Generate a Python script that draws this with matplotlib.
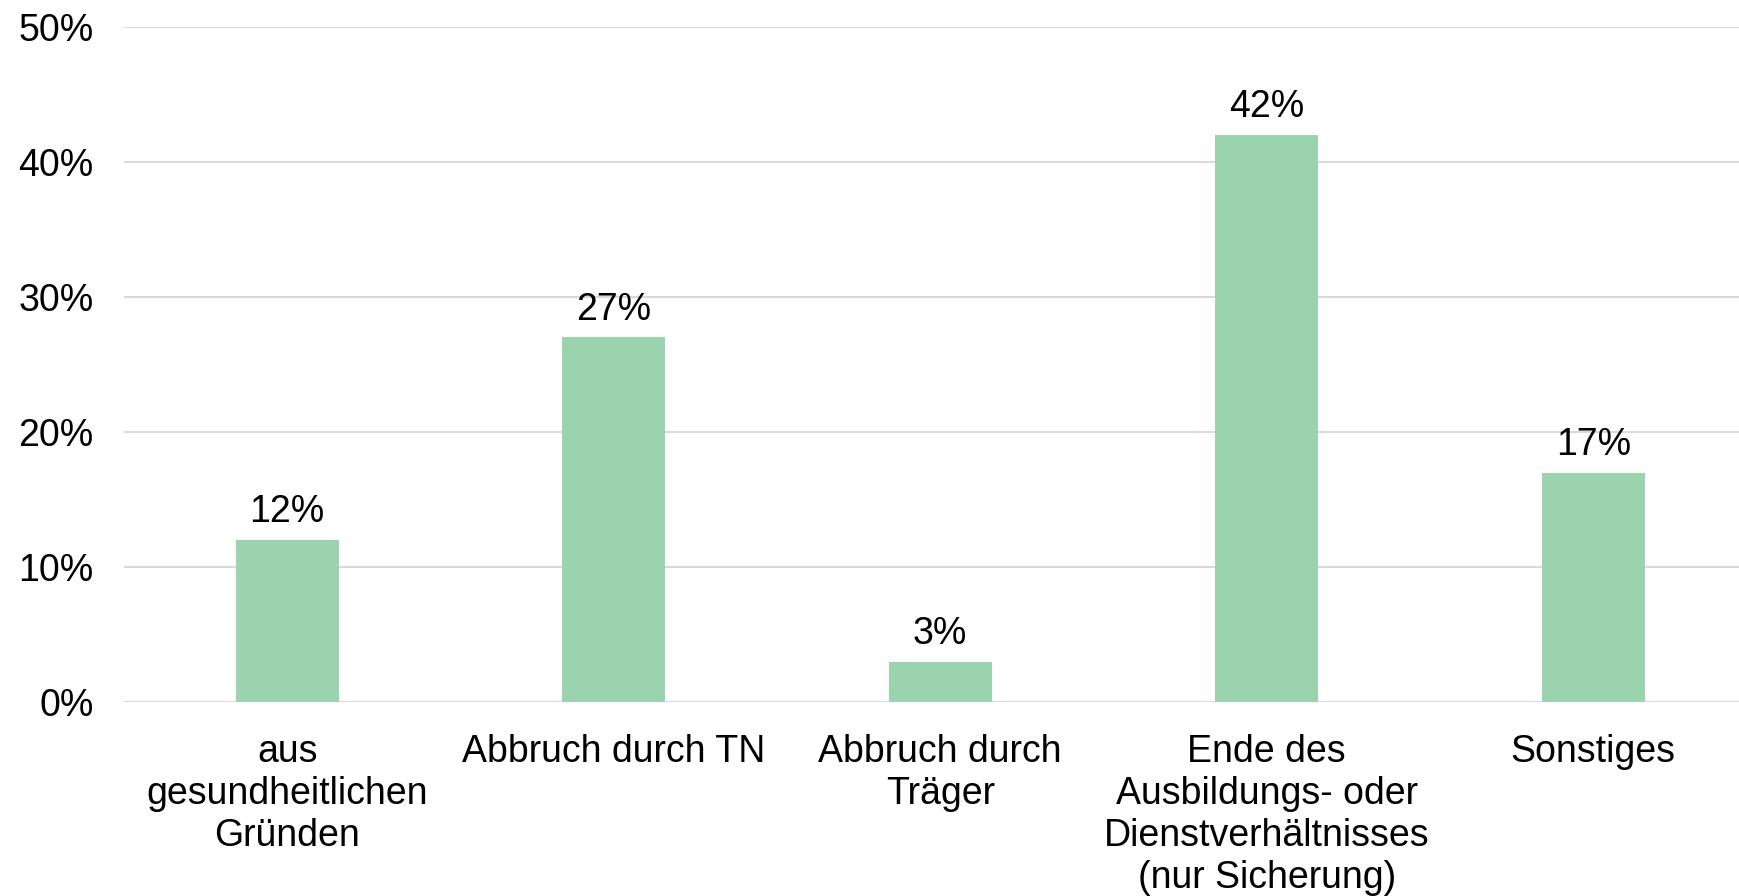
import numpy as np
import matplotlib
matplotlib.use("Agg")
import matplotlib.pyplot as plt

categories = ["aus\ngesundheitlichen\nGründen",
              "Abbruch durch TN",
              "Abbruch durch\nTräger",
              "Ende des\nAusbildungs- oder\nDienstverhältnisses\n(nur Sicherung)",
              "Sonstiges"]
values = [12, 27, 3, 42, 17]
yticks = [0, 10, 20, 30, 40, 50]

plt.rcParams['font.family'] = ['Liberation Sans', 'DejaVu Sans']
fs = 27

fig = plt.figure(figsize=(17.39, 8.96), dpi=100)
ax = fig.add_axes([124 / 1739, 194 / 896, 1632.5 / 1739, 675 / 896])

x = np.arange(len(categories))
ax.bar(x, values, width=0.315, color="#9BD3AE", zorder=3)
for xi, v in zip(x, values):
    ax.annotate("%d%%" % v, (xi, v), xytext=(0, 7), textcoords="offset points",
                ha="center", va="bottom", fontsize=fs, color="black")

ax.set_xlim(-0.5, 4.5)
ax.set_ylim(0, 50)
ax.set_yticks(yticks)
ax.set_yticklabels(["%d%%" % t for t in yticks], fontsize=fs)
ax.set_xticks(x)
ax.set_xticklabels(categories, fontsize=fs, linespacing=1.22, va="top")
ax.tick_params(axis="y", length=0, pad=22)
ax.tick_params(axis="x", length=0, pad=23)
ax.grid(axis="y", color="#D9D9D9", linewidth=1.5, zorder=0)
for s in ax.spines.values():
    s.set_visible(False)

fig.savefig("out.png", dpi=100)
